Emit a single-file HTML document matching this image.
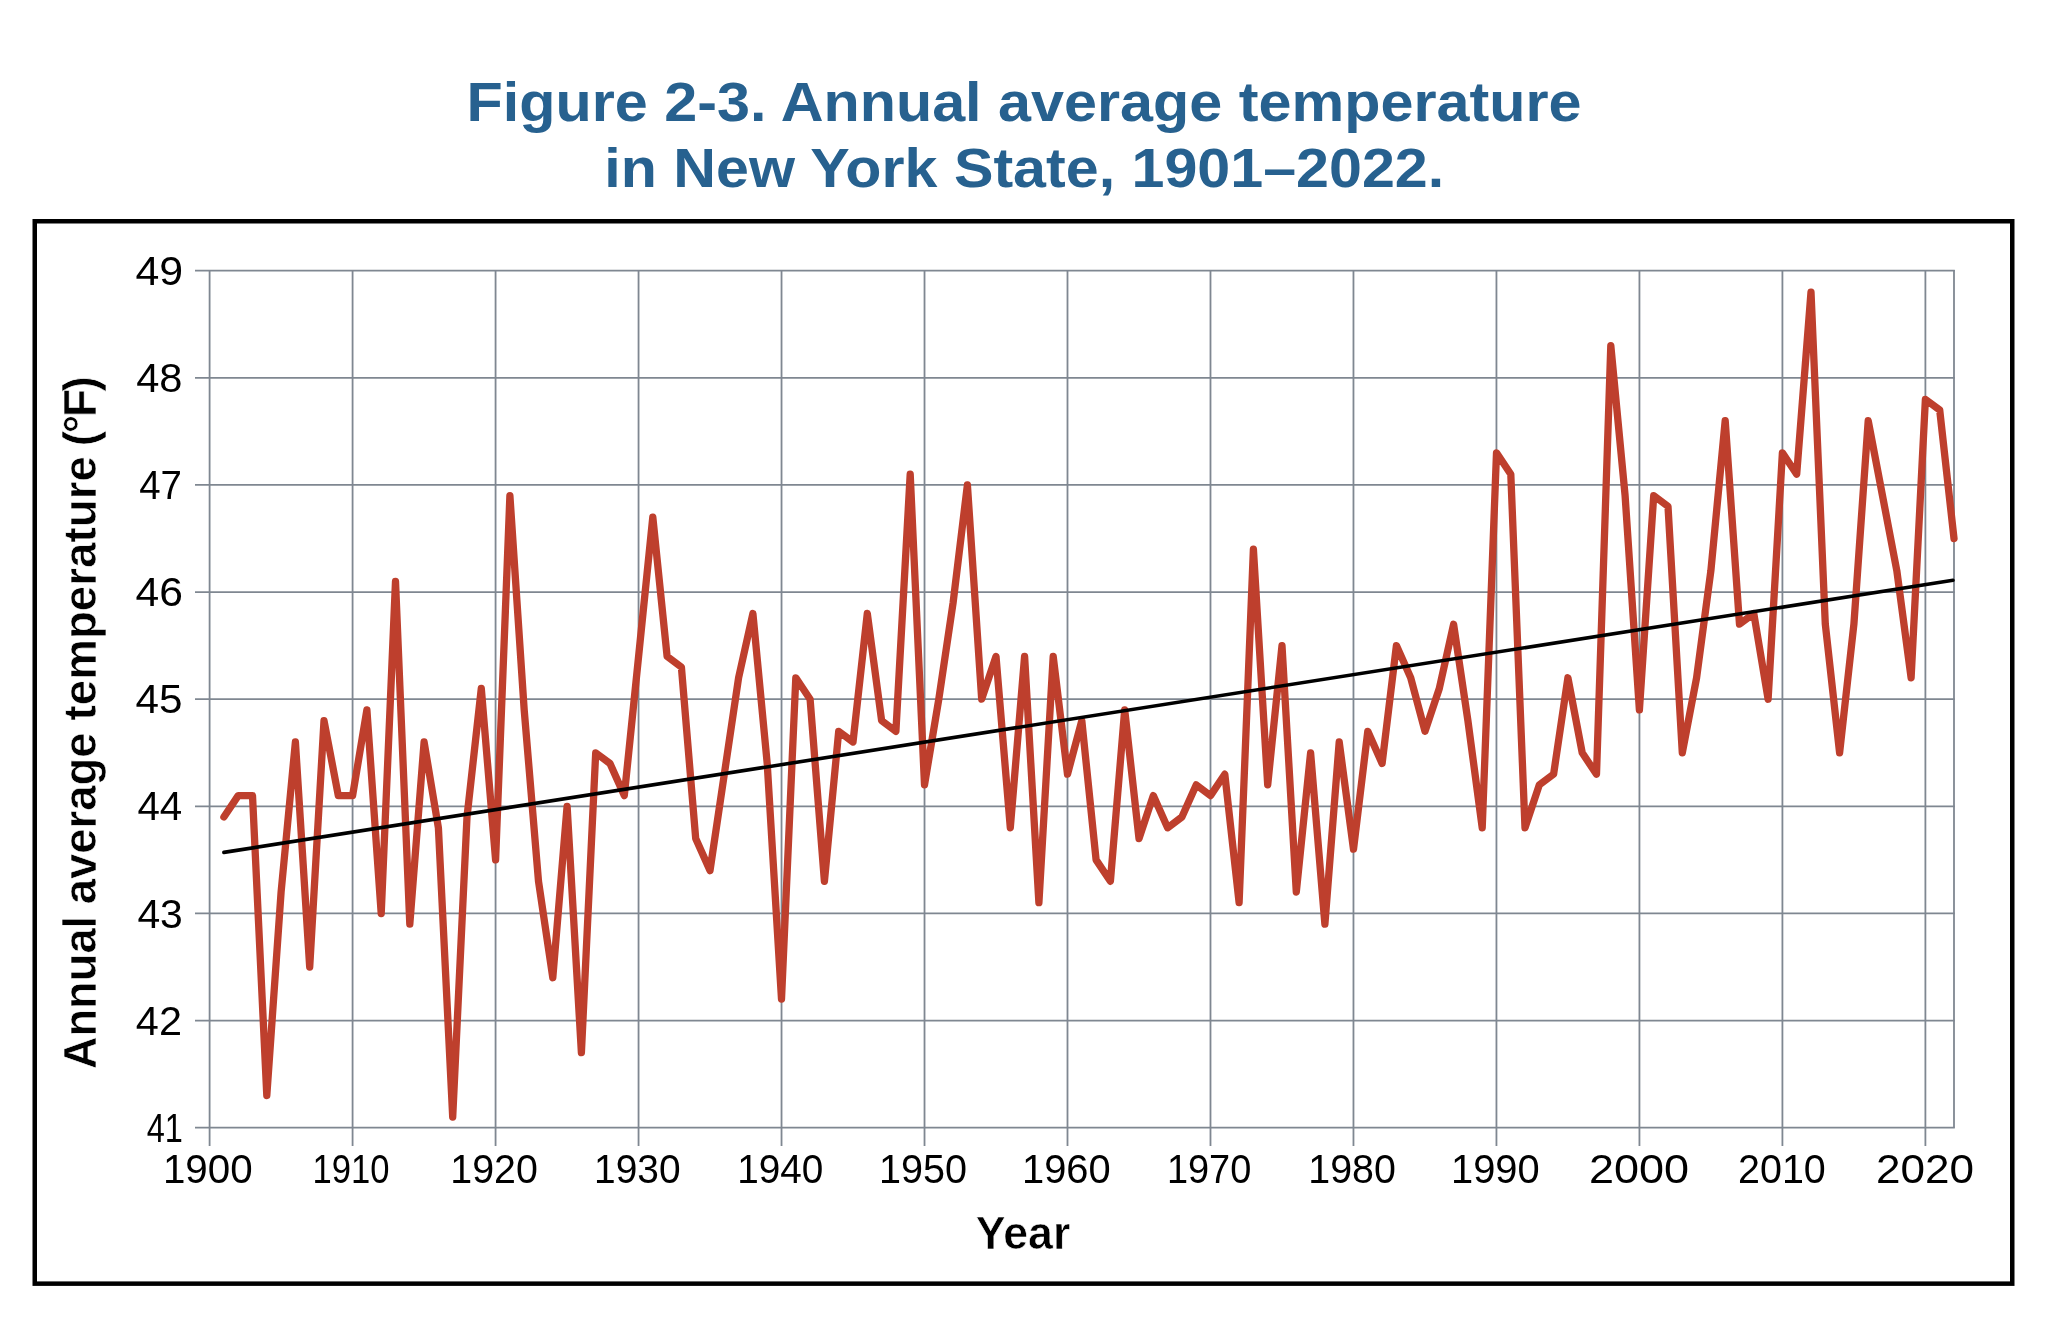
<!DOCTYPE html>
<html lang="en">
<head>
<meta charset="utf-8">
<title>Figure 2-3. Annual average temperature in New York State, 1901–2022.</title>
<style>
html,body{margin:0;padding:0;background:#fff;}
body{width:2048px;height:1321px;overflow:hidden;font-family:"Liberation Sans",sans-serif;}
svg{display:block;will-change:transform;}
.title{font-family:"Liberation Sans",sans-serif;font-weight:bold;font-size:56px;fill:#27618f;}
.tick{font-family:"Liberation Sans",sans-serif;font-size:41px;fill:#000;}
.axis{font-family:"Liberation Sans",sans-serif;font-weight:bold;font-size:46.5px;fill:#000;stroke:#fff;stroke-width:0.6px;}
</style>
</head>
<body>
<svg width="2048" height="1321" viewBox="0 0 2048 1321">
<rect x="0" y="0" width="2048" height="1321" fill="#ffffff"/>
<g class="title" text-anchor="middle">
<text x="1024" y="121" textLength="1115" lengthAdjust="spacingAndGlyphs">Figure 2-3. Annual average temperature</text>
<text x="1024.2" y="186.8" textLength="840" lengthAdjust="spacingAndGlyphs">in New York State, 1901–2022.</text>
</g>
<rect x="34.75" y="221.25" width="1977.5" height="1062.4" fill="none" stroke="#000" stroke-width="4.5"/>
<g stroke="#7f8791" stroke-width="1.8" fill="none">
<line x1="195" x2="1954.8" y1="1127.70" y2="1127.70"/>
<line x1="195" x2="1954.8" y1="1020.58" y2="1020.58"/>
<line x1="195" x2="1954.8" y1="913.45" y2="913.45"/>
<line x1="195" x2="1954.8" y1="806.33" y2="806.33"/>
<line x1="195" x2="1954.8" y1="699.20" y2="699.20"/>
<line x1="195" x2="1954.8" y1="592.08" y2="592.08"/>
<line x1="195" x2="1954.8" y1="484.95" y2="484.95"/>
<line x1="195" x2="1954.8" y1="377.82" y2="377.82"/>
<line x1="195" x2="1954.8" y1="270.70" y2="270.70"/>
<line x1="209.60" x2="209.60" y1="269.9" y2="1146"/>
<line x1="352.58" x2="352.58" y1="269.9" y2="1146"/>
<line x1="495.57" x2="495.57" y1="269.9" y2="1146"/>
<line x1="638.55" x2="638.55" y1="269.9" y2="1146"/>
<line x1="781.53" x2="781.53" y1="269.9" y2="1146"/>
<line x1="924.52" x2="924.52" y1="269.9" y2="1146"/>
<line x1="1067.50" x2="1067.50" y1="269.9" y2="1146"/>
<line x1="1210.49" x2="1210.49" y1="269.9" y2="1146"/>
<line x1="1353.47" x2="1353.47" y1="269.9" y2="1146"/>
<line x1="1496.45" x2="1496.45" y1="269.9" y2="1146"/>
<line x1="1639.44" x2="1639.44" y1="269.9" y2="1146"/>
<line x1="1782.42" x2="1782.42" y1="269.9" y2="1146"/>
<line x1="1925.40" x2="1925.40" y1="269.9" y2="1146"/>
<line x1="1954.00" x2="1954.00" y1="269.9" y2="1127.7"/>
</g>
<polyline points="223.9,817.0 238.2,795.6 252.5,795.6 266.8,1095.6 281.1,892.0 295.4,742.0 309.7,967.0 324.0,720.6 338.3,795.6 352.6,795.6 366.9,709.9 381.2,913.5 395.5,581.4 409.8,924.2 424.1,742.0 438.4,827.8 452.7,1117.0 467.0,817.0 481.3,688.5 495.6,859.9 509.9,495.7 524.2,709.9 538.5,881.3 552.8,977.7 567.1,806.3 581.4,1052.7 595.7,752.8 610.0,763.5 624.3,795.6 638.6,656.4 652.8,517.1 667.1,656.4 681.4,667.1 695.7,838.5 710.0,870.6 724.3,774.2 738.6,677.8 752.9,613.5 767.2,763.5 781.5,999.1 795.8,677.8 810.1,699.2 824.4,881.3 838.7,731.3 853.0,742.0 867.3,613.5 881.6,720.6 895.9,731.3 910.2,474.2 924.5,784.9 938.8,699.2 953.1,602.8 967.4,484.9 981.7,699.2 996.0,656.4 1010.3,827.8 1024.6,656.4 1038.9,902.7 1053.2,656.4 1067.5,774.2 1081.8,720.6 1096.1,859.9 1110.4,881.3 1124.7,709.9 1139.0,838.5 1153.3,795.6 1167.6,827.8 1181.9,817.0 1196.2,784.9 1210.5,795.6 1224.8,774.2 1239.1,902.7 1253.4,549.2 1267.7,784.9 1282.0,645.6 1296.3,892.0 1310.6,752.8 1324.9,924.2 1339.2,742.0 1353.5,849.2 1367.8,731.3 1382.1,763.5 1396.4,645.6 1410.7,677.8 1425.0,731.3 1439.3,688.5 1453.6,624.2 1467.9,720.6 1482.2,827.8 1496.5,452.8 1510.8,474.2 1525.0,827.8 1539.3,784.9 1553.6,774.2 1567.9,677.8 1582.2,752.8 1596.5,774.2 1610.8,345.7 1625.1,495.7 1639.4,709.9 1653.7,495.7 1668.0,506.4 1682.3,752.8 1696.6,677.8 1710.9,570.6 1725.2,420.7 1739.5,624.2 1753.8,613.5 1768.1,699.2 1782.4,452.8 1796.7,474.2 1811.0,292.1 1825.3,624.2 1839.6,752.8 1853.9,624.2 1868.2,420.7 1882.5,495.7 1896.8,570.6 1911.1,677.8 1925.4,399.3 1939.7,410.0 1954.0,538.5" fill="none" stroke="#be3f2d" stroke-width="7.3" stroke-linejoin="round" stroke-linecap="round"/>
<line x1="223.9" y1="852.4" x2="1953.0" y2="580.3" stroke="#000" stroke-width="3.6" stroke-linecap="round"/>
<g class="tick">
<text x="135.46" y="284.7" textLength="47.66" lengthAdjust="spacingAndGlyphs">49</text>
<text x="136.18" y="391.8" textLength="46.31" lengthAdjust="spacingAndGlyphs">48</text>
<text x="139.15" y="498.9" textLength="42.77" lengthAdjust="spacingAndGlyphs">47</text>
<text x="135.46" y="606.1" textLength="47.38" lengthAdjust="spacingAndGlyphs">46</text>
<text x="135.47" y="713.2" textLength="46.97" lengthAdjust="spacingAndGlyphs">45</text>
<text x="137.41" y="820.3" textLength="44.86" lengthAdjust="spacingAndGlyphs">44</text>
<text x="137.40" y="927.5" textLength="45.46" lengthAdjust="spacingAndGlyphs">43</text>
<text x="135.89" y="1034.6" textLength="46.09" lengthAdjust="spacingAndGlyphs">42</text>
<text x="146.78" y="1141.7" textLength="36.18" lengthAdjust="spacingAndGlyphs">41</text>
<text x="162.94" y="1182.9" textLength="89.70" lengthAdjust="spacingAndGlyphs">1900</text>
<text x="312.57" y="1182.9" textLength="76.95" lengthAdjust="spacingAndGlyphs">1910</text>
<text x="450.31" y="1182.9" textLength="87.59" lengthAdjust="spacingAndGlyphs">1920</text>
<text x="594.04" y="1182.9" textLength="86.54" lengthAdjust="spacingAndGlyphs">1930</text>
<text x="737.26" y="1182.9" textLength="86.12" lengthAdjust="spacingAndGlyphs">1940</text>
<text x="878.89" y="1182.9" textLength="88.02" lengthAdjust="spacingAndGlyphs">1950</text>
<text x="1021.97" y="1182.9" textLength="88.65" lengthAdjust="spacingAndGlyphs">1960</text>
<text x="1166.92" y="1182.9" textLength="84.33" lengthAdjust="spacingAndGlyphs">1970</text>
<text x="1308.31" y="1182.9" textLength="87.59" lengthAdjust="spacingAndGlyphs">1980</text>
<text x="1450.97" y="1182.9" textLength="88.65" lengthAdjust="spacingAndGlyphs">1990</text>
<text x="1588.95" y="1182.9" textLength="100.07" lengthAdjust="spacingAndGlyphs">2000</text>
<text x="1738.03" y="1182.9" textLength="87.78" lengthAdjust="spacingAndGlyphs">2010</text>
<text x="1876.10" y="1182.9" textLength="97.98" lengthAdjust="spacingAndGlyphs">2020</text>
</g>
<text class="axis" x="975.8" y="1249" textLength="94.5" lengthAdjust="spacingAndGlyphs">Year</text>
<g class="axis" transform="translate(96,0) rotate(-90)">
<text x="-1069.3" y="0" textLength="153.5" lengthAdjust="spacingAndGlyphs">Annual</text>
<text x="-904.3" y="0" textLength="171.8" lengthAdjust="spacingAndGlyphs">average</text>
<text x="-720.4" y="0" textLength="264.3" lengthAdjust="spacingAndGlyphs">temperature</text>
<text x="-446.3" y="0" textLength="70.4" lengthAdjust="spacing">(°F)</text>
</g>
</svg>
</body>
</html>
